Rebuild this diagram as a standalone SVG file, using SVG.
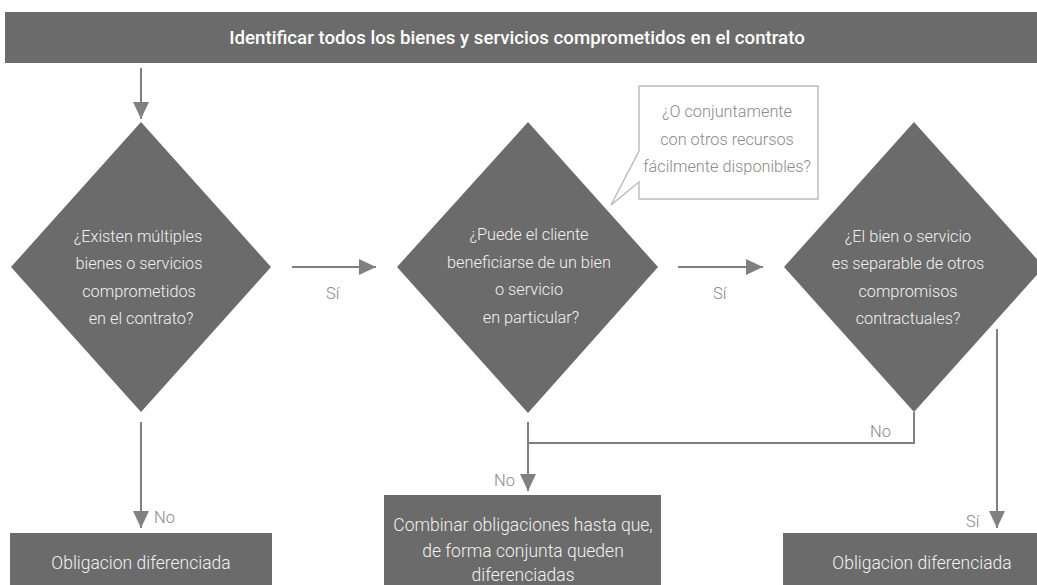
<svg xmlns="http://www.w3.org/2000/svg" width="1037" height="585" viewBox="0 0 1037 585">
<style>
.box{fill:#6b6b6b}
.txt{font-family:Roboto,"Open Sans","Liberation Sans",sans-serif;font-size:16.3px;font-weight:300;fill:#f2f2f2;text-anchor:middle}
.big{font-size:17.5px}
.title{font-family:Roboto,"Open Sans","Liberation Sans",sans-serif;font-size:18.7px;font-weight:500;fill:#ffffff;text-anchor:middle}
.lbl{font-family:Roboto,"Open Sans","Liberation Sans",sans-serif;font-size:16.5px;font-weight:300;fill:#8a8a8a}
.call{font-family:Roboto,"Open Sans","Liberation Sans",sans-serif;font-size:16.3px;font-weight:300;fill:#8a8a8a;text-anchor:middle}
.ln{stroke:#808080;stroke-width:2;fill:none}
</style>
<defs>
<marker id="ah" markerUnits="userSpaceOnUse" markerWidth="17" markerHeight="16" refX="17" refY="8" orient="auto">
<path d="M0,0 L17,8 L0,16 Z" fill="#808080"/>
</marker>
</defs>
<rect width="1037" height="585" fill="#ffffff"/>
<g id="top">
<rect class="box" x="5" y="12" width="1032" height="51"/>
<text class="title" x="517" y="44">Identificar todos los bienes y servicios comprometidos en el contrato</text>
</g>
<g id="connectors">
<path class="ln" d="M141,68 V119" marker-end="url(#ah)"/>
<path class="ln" d="M292,267 H376" marker-end="url(#ah)"/>
<path class="ln" d="M678,267 H763" marker-end="url(#ah)"/>
<path class="ln" d="M141,422 V528" marker-end="url(#ah)"/>
<path class="ln" d="M528,422 V491" marker-end="url(#ah)"/>
<path class="ln" d="M914,412 V443 H528"/>
<path class="ln" d="M997,329 V528" marker-end="url(#ah)"/>
<text class="lbl" x="326" y="299">Sí</text>
<text class="lbl" x="713" y="299">Sí</text>
<text class="lbl" x="154" y="523">No</text>
<text class="lbl" x="494" y="486">No</text>
<text class="lbl" x="870" y="437">No</text>
<text class="lbl" x="966" y="527">Sí</text>
</g>
<g id="d1">
<polygon class="box" points="141,122 271,267 141,412 11,267"/>
<text class="txt" x="138" y="242">¿Existen múltiples</text>
<text class="txt" x="139" y="269">bienes o servicios</text>
<text class="txt" x="139" y="297">comprometidos</text>
<text class="txt" x="141" y="324">en el contrato?</text>
</g>
<g id="d2">
<polygon class="box" points="528,122 658,267 528,413 397,267"/>
<text class="txt" x="529" y="240">¿Puede el cliente</text>
<text class="txt" x="529" y="268">beneficiarse de un bien</text>
<text class="txt" x="529" y="295">o servicio</text>
<text class="txt" x="531" y="323">en particular?</text>
</g>
<g id="callout">
<path d="M639,86 H818 V199 H639 V182 L611,205 L639,151 Z" fill="#ffffff" stroke="#bdbdbd" stroke-width="1.5"/>
<text class="call" x="727" y="117">¿O conjuntamente</text>
<text class="call" x="727" y="145">con otros recursos</text>
<text class="call" x="727" y="172">fácilmente disponibles?</text>
</g>
<g id="d3">
<polygon class="box" points="914,122 1044,267 914,412 784,267"/>
<text class="txt" x="908" y="242">¿El bien o servicio</text>
<text class="txt" x="908" y="269">es separable de otros</text>
<text class="txt" x="908" y="297">compromisos</text>
<text class="txt" x="908" y="324">contractuales?</text>
</g>
<g id="b1">
<rect class="box" x="10" y="533" width="262" height="52"/>
<text class="txt big" x="141" y="569">Obligacion diferenciada</text>
</g>
<g id="b2">
<rect class="box" x="384" y="495" width="277" height="90"/>
<text class="txt big" x="523" y="531">Combinar obligaciones hasta que,</text>
<text class="txt big" x="523" y="557">de forma conjunta queden</text>
<text class="txt big" x="523" y="581">diferenciadas</text>
</g>
<g id="b3">
<rect class="box" x="783" y="533" width="254" height="52"/>
<text class="txt big" x="922" y="569">Obligacion diferenciada</text>
</g>
</svg>
